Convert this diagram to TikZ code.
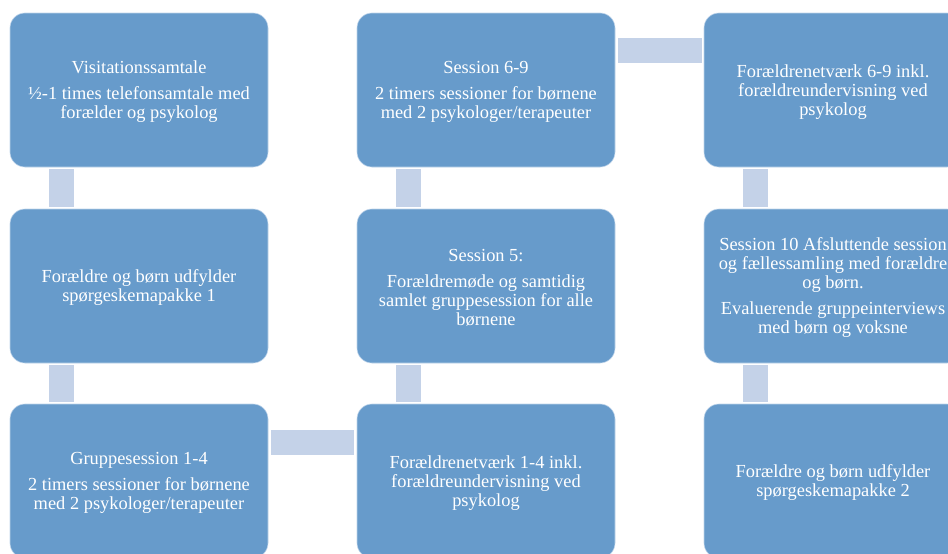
\documentclass[tikz,border=0pt]{standalone}
\usepackage{fontspec}
\setmainfont{Liberation Serif}
\usetikzlibrary{calc}
\definecolor{boxfill}{RGB}{103,155,203}
\definecolor{boxedge}{RGB}{190,212,234}
\definecolor{connfill}{RGB}{196,210,232}
\tikzset{
  box/.style={draw=boxedge, line width=0.6pt, fill=boxfill, rounded corners=15pt,
    minimum width=258pt, minimum height=154pt, inner sep=0pt, outer sep=0pt,
    anchor=north west},
  txt/.style={align=center, text=white, inner sep=0pt,
    font=\fontsize{18.4}{19}\selectfont},
  conn/.style={draw=connfill, line width=25pt},
}
\newcommand{\pgap}{\\[7pt]}
\begin{document}
\begin{tikzpicture}[x=1pt,y=-1pt]
\useasboundingbox (0,0) rectangle (948,554);
\clip (0,0) rectangle (948,554);
\node[box] (a1) at (10,13) {};
\node[box] (a2) at (10,209) {};
\node[box] (a3) at (10,404) {};
\node[box] (b1) at (357,13) {};
\node[box] (b2) at (357,209) {};
\node[box] (b3) at (357,404) {};
\node[box] (c1) at (704,13) {};
\node[box] (c2) at (704,209) {};
\node[box] (c3) at (704,404) {};
\node[txt] (a1t) at ($(a1.center)+(0,2)$) {Visitationssamtale\pgap ½-1 times telefonsamtale med\\forælder og psykolog};
\node[txt] (a2t) at ($(a2.center)+(0,2)$) {Forældre og børn udfylder\\spørgeskemapakke 1};
\node[txt] (a3t) at ($(a3.center)+(0,2)$) {Gruppesession 1-4\pgap 2 timers sessioner for børnene\\med 2 psykologer/terapeuter};
\node[txt] (b1t) at ($(b1.center)+(0,2)$) {Session 6-9\pgap 2 timers sessioner for børnene\\med 2 psykologer/terapeuter};
\node[txt] (b2t) at ($(b2.center)+(0,2)$) {Session 5:\pgap Forældremøde og samtidig\\samlet gruppesession for alle\\børnene};
\node[txt] (b3t) at ($(b3.center)+(0,2)$) {Forældrenetværk 1-4 inkl.\\forældreundervisning ved\\psykolog};
\node[txt] (c1t) at ($(c1.center)+(0,2)$) {Forældrenetværk 6-9 inkl.\\forældreundervisning ved\\psykolog};
\node[txt] (c2t) at ($(c2.center)+(0,2)$) {Session 10 Afsluttende session\\og fællessamling med forældre\\og børn.\pgap Evaluerende gruppeinterviews\\med børn og voksne};
\node[txt] (c3t) at ($(c3.center)+(0,2)$) {Forældre og børn udfylder\\spørgeskemapakke 2};
% connectors
\draw[conn] ($(a1.south west)+(51.5,2)$) -- ($(a2.north west)+(51.5,-2)$);
\draw[conn] ($(a2.south west)+(51.5,2)$) -- ($(a3.north west)+(51.5,-2)$);
\draw[conn] ($(a3.north east)+(3,38)$) -- ($(b3.north west)+(-3,38)$);
\draw[conn] ($(b3.north west)+(51.5,-2)$) -- ($(b2.south west)+(51.5,2)$);
\draw[conn] ($(b2.north west)+(51.5,-2)$) -- ($(b1.south west)+(51.5,2)$);
\draw[conn] ($(b1.north east)+(3,37.5)$) -- ($(c1.north west)+(-2,37.5)$);
\draw[conn] ($(c1.south west)+(51.5,2)$) -- ($(c2.north west)+(51.5,-2)$);
\draw[conn] ($(c2.south west)+(51.5,2)$) -- ($(c3.north west)+(51.5,-2)$);
\end{tikzpicture}
\end{document}
